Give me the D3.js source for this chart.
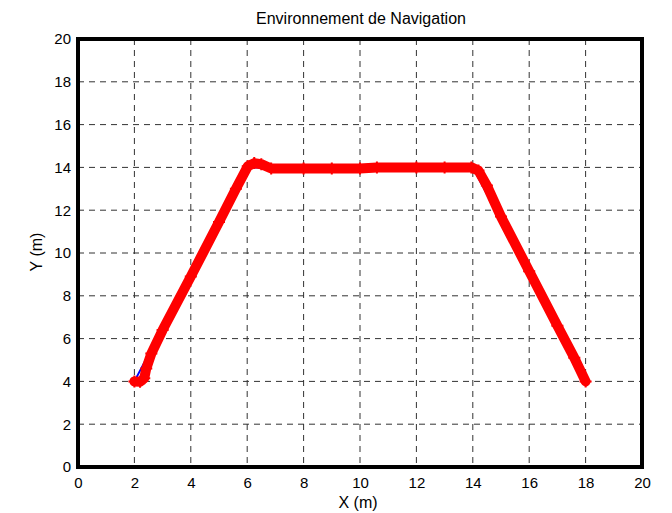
<!DOCTYPE html>
<html><head><meta charset="utf-8">
<script src="https://cdn.jsdelivr.net/npm/d3@7"></script>
<style>body{margin:0;background:#fff}svg{display:block}text{font-family:"Liberation Sans",Arial,sans-serif;fill:#000}</style>
</head><body><svg id="c" width="672" height="513"></svg>
<script>
const xTicks=[0,2,4,6,8,10,12,14,16,18,20];
const yTicks=[0,2,4,6,8,10,12,14,16,18,20];
// reference path (blue)
const refX=[2,6,14,18];
const refY=[4,14,14,4];
// actual trajectory (red)
const trajX=[2.0,2.2,2.35,2.42,2.6,3.0,4.0,5.0,5.6,6.02,6.25,6.5,6.85,8,9,10,10.6,12,13,13.95,14.2,14.5,15,16,17,17.6,18];
const trajY=[4.0,3.98,4.15,4.6,5.3,6.4,8.9,11.45,13.0,14.05,14.2,14.15,13.95,13.95,13.95,13.95,14.0,14.0,14.0,14.0,13.85,13.15,11.7,9.15,6.6,5.1,4.0];

const L=78,R=642,T=39,B=467;
const x=d3.scaleLinear().domain([0,20]).range([L,R]);
const y=d3.scaleLinear().domain([0,20]).range([B,T]);
const svg=d3.select('#c');

// grid
const g=svg.append('g');
g.selectAll('.vx').data(xTicks.slice(1,-1)).enter().append('line')
 .attr('x1',d=>x(d)).attr('x2',d=>x(d)).attr('y1',T).attr('y2',B)
 .attr('stroke','#333').attr('stroke-width',1).attr('stroke-dasharray','6,5');
g.selectAll('.hy').data(yTicks.slice(1,-1)).enter().append('line')
 .attr('y1',d=>y(d)).attr('y2',d=>y(d)).attr('x1',L).attr('x2',R)
 .attr('stroke','#333').attr('stroke-width',1).attr('stroke-dasharray','6,5');

// axes
const xa=svg.append('g').attr('transform',`translate(0,${B})`).call(d3.axisBottom(x).tickValues(xTicks).tickSize(0).tickPadding(10));
const ya=svg.append('g').attr('transform',`translate(${L},0)`).call(d3.axisLeft(y).tickValues(yTicks).tickSize(0).tickPadding(7));
[xa,ya].forEach(a=>{a.select('.domain').remove();a.selectAll('text').style('font-size','15px').style('font-family','"Liberation Sans",Arial,sans-serif');});

// lines
const line=d3.line().x(d=>x(d[0])).y(d=>y(d[1]));
svg.append('path').datum(refX.map((v,i)=>[v,refY[i]])).attr('d',line)
 .attr('fill','none').attr('stroke','#0000ff').attr('stroke-width',2);
const tr=trajX.map((v,i)=>[v,trajY[i]]);
svg.append('path').datum(tr).attr('d',line)
 .attr('fill','none').attr('stroke','#ff0000').attr('stroke-width',10).attr('stroke-linejoin','round').attr('stroke-linecap','round');
svg.selectAll('.m').data(tr).enter().append('path')
 .attr('transform',d=>`translate(${x(d[0])},${y(d[1])})`)
 .attr('d','M-6,0H6M0,-6V6').attr('stroke','#ff0000').attr('stroke-width',2);

// frame
svg.append('rect').attr('x',L).attr('y',T).attr('width',R-L).attr('height',B-T)
 .attr('fill','none').attr('stroke','#000').attr('stroke-width',4);

// labels
svg.append('text').attr('x',361).attr('y',24).attr('text-anchor','middle').style('font-size','16px').text('Environnement de Navigation');
svg.append('text').attr('x',358).attr('y',508).attr('text-anchor','middle').style('font-size','16px').text('X (m)');
svg.append('text').attr('transform','translate(42,252) rotate(-90)').attr('text-anchor','middle').style('font-size','16px').text('Y (m)');
</script></body></html>
